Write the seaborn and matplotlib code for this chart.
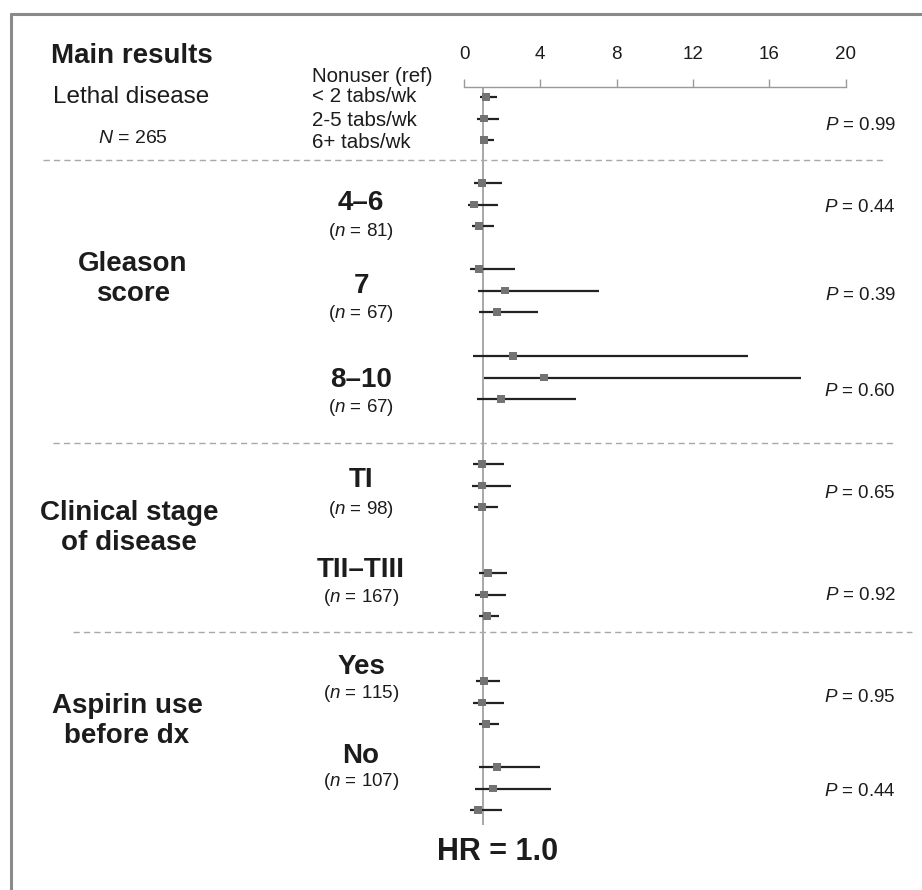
import matplotlib
matplotlib.use("Agg")
import matplotlib.pyplot as plt
import seaborn as sns
import pandas as pd
from matplotlib.lines import Line2D

# ---------------- data ----------------
subgroups = ["Main results", "4–6", "7", "8–10", "TI", "TII–TIII", "Yes", "No"]
subgroup_n = [265, 81, 67, 67, 98, 167, 115, 107]
levels = ["< 2 tabs/wk", "2-5 tabs/wk", "6+ tabs/wk"]
hr = [
    [1.15, 1.06, 1.06],
    [0.96, 0.54, 0.79],
    [0.80, 2.16, 1.71],
    [2.55, 4.19, 1.92],
    [0.96, 0.96, 0.96],
    [1.27, 1.05, 1.19],
    [1.06, 0.96, 1.14],
    [1.71, 1.53, 0.75],
]
ci_low = [
    [0.84, 0.66, 0.87],
    [0.54, 0.23, 0.43],
    [0.31, 0.72, 0.80],
    [0.49, 1.05, 0.66],
    [0.49, 0.43, 0.52],
    [0.80, 0.58, 0.80],
    [0.63, 0.49, 0.79],
    [0.79, 0.58, 0.31],
]
ci_high = [
    [1.74, 1.85, 1.57],
    [2.00, 1.80, 1.57],
    [2.67, 7.07, 3.86],
    [14.88, 17.68, 5.86],
    [2.09, 2.44, 1.80],
    [2.23, 2.20, 1.85],
    [1.88, 2.11, 1.85],
    [3.98, 4.55, 1.97],
]
p_values = ["0.99", "0.44", "0.39", "0.60", "0.65", "0.92", "0.95", "0.44"]
x_ticks = [0, 4, 8, 12, 16, 20]

# ---------------- layout ----------------
W, H = 922, 890
block_top = [97, 183, 269, 356, 464, 573, 681, 767]
row_step = 21.5
p_y = [125, 208, 296, 391, 494, 595, 698, 792]

rows = []
for g, name in enumerate(subgroups):
    for k, lev in enumerate(levels):
        rows.append(dict(subgroup=name, level=lev, hr=hr[g][k], lo=ci_low[g][k],
                         hi=ci_high[g][k], y=block_top[g] + k * row_step))
df = pd.DataFrame(rows)

sns.set_theme(style="white")
plt.rcParams['font.family'] = ['Liberation Sans', 'DejaVu Sans']
plt.rcParams['mathtext.fontset'] = 'custom'
plt.rcParams['mathtext.rm'] = 'Liberation Sans'
plt.rcParams['mathtext.it'] = 'Liberation Sans:italic'
plt.rcParams['mathtext.bf'] = 'Liberation Sans:bold'

TXT = '#1c1c1c'
GRAY = '#9a9a9a'

fig = plt.figure(figsize=(W / 100, H / 100), dpi=100)
fig.patch.set_facecolor('white')

ax_left, ax_right, ax_top = 464, 845.5, 87
ax = fig.add_axes([ax_left / W, 0, (ax_right - ax_left) / W, (H - ax_top) / H])
ax.set_facecolor('none')
ax.set_xlim(0, 20)
ax.set_ylim(H, ax_top)

# reference line at HR = 1
ax.vlines(1, ax_top, 825, color=GRAY, lw=1.2, zorder=1)
# confidence intervals
ax.hlines(df['y'], df['lo'], df['hi'], color='#222222', lw=1.6, zorder=2)
# point estimates
sns.scatterplot(data=df, x='hr', y='y', marker='s', s=32, color='#737373',
                edgecolor='none', linewidth=0, ax=ax, zorder=3, legend=False)

for s in ['left', 'right', 'bottom']:
    ax.spines[s].set_visible(False)
ax.spines['top'].set_color(GRAY)
ax.spines['top'].set_linewidth(1.0)
ax.xaxis.set_ticks_position('top')
ax.set_xticks(x_ticks)
ax.set_xticklabels([str(t) for t in x_ticks])
ax.tick_params(axis='x', direction='out', length=6, width=1, color=GRAY,
               pad=11, labelsize=13.5, labelcolor=TXT)
ax.set_yticks([])
ax.set_xlabel('')
ax.set_ylabel('')


def ftext(x, y, s, ha='center', **kw):
    fig.text(x / W, 1 - y / H, s, ha=ha, va='center', color=TXT, **kw)


# header block
ftext(132, 56, "Main results", fontsize=20, fontweight='bold')
ftext(131, 97, "Lethal disease", fontsize=17.5)
ftext(133, 138, r"$N$ = " + str(subgroup_n[0]), fontsize=14)
ftext(312, 76, "Nonuser (ref)", ha='left', fontsize=14.8)
for k, lev in enumerate(levels):
    ftext(312, [97, 120, 143][k], lev, ha='left', fontsize=14.8)

# group labels
ftext(133, 279, "Gleason\nscore", fontsize=20, fontweight='bold', linespacing=1.2)
ftext(129, 528, "Clinical stage\nof disease", fontsize=20, fontweight='bold', linespacing=1.2)
ftext(127, 721, "Aspirin use\nbefore dx", fontsize=20, fontweight='bold', linespacing=1.2)

# subgroup labels
sub_label_y = [None, 203, 286, 380, 480, 570, 667, 756]
sub_n_y = [None, 232, 314, 407, 510, 597, 693, 782]
for g in range(1, len(subgroups)):
    ftext(361, sub_label_y[g], subgroups[g], fontsize=20, fontweight='bold')
    ftext(361, sub_n_y[g], r"($n$ = " + str(subgroup_n[g]) + ")", fontsize=13.5)

# P-values
for g, p in enumerate(p_values):
    ftext(896, p_y[g], r"$P$ = " + p, ha='right', fontsize=13.5)

ftext(498, 852, "HR = 1.0", fontsize=22, fontweight='bold')

# dashed separators
for (x0, x1, y) in [(43, 883, 160), (53, 895, 443), (73, 912, 632)]:
    fig.add_artist(Line2D([x0 / W, x1 / W], [1 - y / H, 1 - y / H], transform=fig.transFigure,
                          color='#a8a8a8', lw=1.0, linestyle=(0, (4.5, 3))))

# outer frame (top and left)
fig.add_artist(Line2D([11 / W, 1.0], [1 - 13.5 / H, 1 - 13.5 / H], transform=fig.transFigure,
                      color='#8a8a8a', lw=2.2))
fig.add_artist(Line2D([11 / W, 11 / W], [1 - 13.5 / H, 0], transform=fig.transFigure,
                      color='#8a8a8a', lw=2.2))

fig.savefig("out.png", dpi=100)
